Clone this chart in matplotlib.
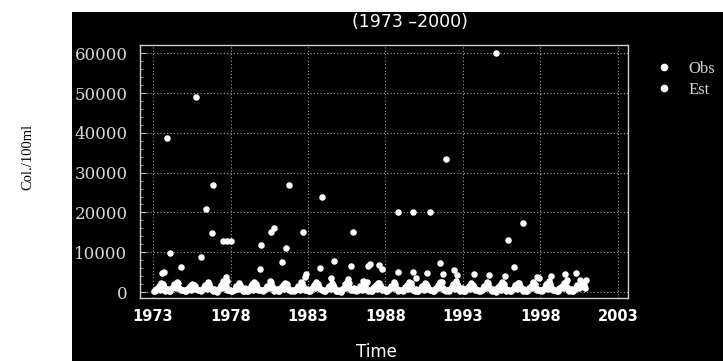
import numpy as np
import matplotlib
matplotlib.use("Agg")
import matplotlib.pyplot as plt
from matplotlib.patches import Rectangle
from matplotlib.lines import Line2D
from matplotlib.ticker import MultipleLocator

# ---------------- data ----------------
years = list(range(1973, 2001))
x_ticks = [1973, 1978, 1983, 1988, 1993, 1998, 2003]
y_ticks = [0, 10000, 20000, 30000, 40000, 50000, 60000]
y_tick_labels = ["0", "10000", "20000", "30000", "40000", "50000", "60000"]

est_months = [1, 3, 5, 7, 9, 11]
obs_band_months = [2, 4, 6, 8, 10, 12]

# Est (bi-monthly values, one row per year)
est_values = [
    [350, 700, 1600, 2300, 1300, 450],
    [300, 900, 1900, 2600, 1100, 400],
    [250, 650, 1400, 2100, 1500, 500],
    [400, 800, 1700, 2500, 1200, 350],
    [300, 750, 1800, 2700, 1400, 450],
    [350, 600, 1500, 2200, 1000, 300],
    [250, 850, 1900, 2400, 1300, 400],
    [400, 700, 1600, 2800, 1500, 500],
    [300, 900, 1700, 2300, 1100, 350],
    [450, 650, 1500, 2500, 1400, 400],
    [300, 800, 1800, 2600, 1200, 500],
    [350, 700, 1600, 2200, 1300, 300],
    [250, 850, 1900, 2500, 1100, 450],
    [400, 600, 1500, 2700, 1400, 350],
    [300, 900, 1700, 2300, 1200, 500],
    [350, 750, 1600, 2400, 1000, 400],
    [450, 700, 1800, 2600, 1300, 300],
    [300, 800, 1500, 2200, 1400, 450],
    [250, 650, 1700, 2500, 1100, 350],
    [400, 900, 1900, 2800, 1500, 500],
    [300, 750, 1600, 2300, 1200, 400],
    [350, 600, 1500, 2400, 1300, 300],
    [450, 850, 1800, 2600, 1000, 450],
    [300, 700, 1700, 2200, 1400, 350],
    [250, 800, 1600, 2500, 1100, 500],
    [400, 650, 1900, 2700, 1300, 400],
    [350, 900, 1500, 2300, 1200, 300],
    [300, 750, 1800, 2900, 1600, 900],
]

# Obs - low values inside the seasonal band (bi-monthly, one row per year)
obs_band_values = [
    [200, 1100, 600, 1900, 300, 800],
    [150, 1300, 900, 2200, 500, 600],
    [300, 900, 500, 1700, 700, 400],
    [250, 1200, 800, 2000, 400, 700],
    [100, 1000, 1100, 2300, 600, 500],
    [300, 800, 700, 1800, 200, 900],
    [200, 1400, 600, 2100, 500, 400],
    [350, 900, 1000, 2400, 300, 700],
    [150, 1200, 800, 1900, 600, 500],
    [250, 1000, 600, 2200, 400, 800],
    [300, 1300, 900, 2000, 700, 400],
    [200, 900, 700, 1700, 300, 600],
    [100, 1100, 1000, 2300, 500, 900],
    [300, 800, 600, 2100, 400, 500],
    [250, 1200, 800, 1800, 600, 700],
    [200, 1000, 900, 2000, 300, 400],
    [350, 1300, 700, 2200, 500, 800],
    [150, 900, 600, 1900, 700, 500],
    [300, 1100, 1000, 2400, 400, 600],
    [200, 1200, 800, 2100, 300, 900],
    [250, 1000, 700, 1800, 600, 400],
    [300, 900, 900, 2300, 500, 700],
    [100, 1300, 600, 2000, 300, 500],
    [250, 1100, 800, 2200, 700, 800],
    [300, 1000, 1000, 1900, 400, 600],
    [200, 1200, 700, 2100, 500, 400],
    [350, 900, 900, 2400, 600, 700],
    [250, 1300, 1100, 2600, 1800, 3000],
]

# Obs - higher observations (decimal year, value)
obs_peak_years = [
    1973.6, 1973.7, 1973.9, 1974.1, 1974.8, 1975.8, 1976.1, 1976.4, 1976.8, 1976.9,
    1977.5, 1977.8, 1978.0, 1977.7, 1977.8, 1979.9, 1980.0, 1980.6, 1980.8, 1981.3,
    1981.6, 1981.8, 1982.7, 1982.8, 1982.9, 1983.8, 1983.9, 1984.5, 1984.7, 1985.6,
    1985.8, 1985.9, 1986.8, 1986.9, 1987.0, 1987.6, 1987.8, 1987.6, 1988.8, 1988.8,
    1989.8, 1989.8, 1990.0, 1990.7, 1990.9, 1991.5, 1991.7, 1991.9, 1992.4, 1992.6,
    1993.7, 1994.7, 1995.1, 1995.7, 1995.9, 1996.3, 1996.9, 1997.8, 1997.9, 1998.7,
    1999.6, 1999.7, 2000.3,
]
obs_peak_values = [
    4800, 5000, 38600, 9800, 6300, 48900, 8800, 20800, 14800, 26900,
    12800, 12800, 12800, 3800, 2800, 5800, 11800, 15000, 16000, 7500,
    11000, 26900, 15000, 3800, 4500, 6000, 23800, 3500, 7800, 3300,
    6500, 15000, 2500, 6500, 7000, 6800, 5800, 2300, 5000, 20100,
    20100, 5000, 3500, 4800, 20100, 7300, 4500, 33400, 5500, 4300,
    4500, 4300, 60000, 4000, 13100, 6300, 17300, 3800, 3500, 4000,
    4500, 3000, 4800,
]

# ---------------- build series ----------------
est_t = [y + (m - 0.5) / 12 for y in years for m in est_months]
est_v = [v for row in est_values for v in row]
obs_t = [y + (m - 0.5) / 12 for y in years for m in obs_band_months] + obs_peak_years
obs_v = [v for row in obs_band_values for v in row] + obs_peak_values

# ---------------- figure ----------------
W, H = 723, 361
fig = plt.figure(figsize=(W / 100, H / 100), dpi=100, facecolor="white")
bg = Rectangle((72 / W, 0), 1 - 72 / W, (H - 12) / H,
               transform=fig.transFigure, facecolor="black",
               edgecolor="none", zorder=-10)
fig.patches.append(bg)

ax = fig.add_axes([140 / W, 1 - 298 / H, (628 - 140) / W, (298 - 45) / H])
ax.set_zorder(2)
ax.set_facecolor("black")

ax.scatter(est_t, est_v, s=22, c="white", marker="o", linewidths=0, zorder=3)
ax.scatter(obs_t, obs_v, s=22, c="white", marker="o", linewidths=0, zorder=3)

ax.set_xlim(1972.16, 2003.65)
ax.set_ylim(-1500, 62070)
ax.set_xticks(x_ticks)
ax.set_xticklabels([str(t) for t in x_ticks])
ax.set_yticks(y_ticks)
ax.set_yticklabels(y_tick_labels)
ax.yaxis.set_minor_locator(MultipleLocator(2000))

ax.grid(True, which="major", color="#a0a0a0", linestyle=(0, (1, 2)), linewidth=0.8)
for sp in ax.spines.values():
    sp.set_color("#d0d0d0")
    sp.set_linestyle((0, (1, 1)))
    sp.set_linewidth(1.0)

ax.tick_params(axis="y", which="major", direction="in", length=4, color="#c0c0c0",
               pad=9, labelcolor="#d8d8d8", labelsize=12)
ax.tick_params(axis="y", which="minor", direction="in", length=2.5, color="#b0b0b0")
ax.tick_params(axis="x", which="major", direction="in", length=0, pad=8,
               labelcolor="white", labelsize=10.5)
for lab in ax.get_yticklabels():
    lab.set_fontfamily("DejaVu Serif")
for lab in ax.get_xticklabels():
    lab.set_fontfamily("DejaVu Sans")
    lab.set_fontweight("bold")

# title and axis labels
fig.text(410 / W, 1 - 22 / H, "(1973 \u20132000)", ha="center", va="center",
         color="white", fontsize=12.5, family="DejaVu Sans", zorder=5)
fig.text(376 / W, 0.0, "Time", ha="center", va="bottom",
         color="white", fontsize=12, family="DejaVu Sans", zorder=5)
fig.text(28 / W, 1 - 157 / H, "Col./100ml", ha="center", va="center",
         rotation=90, color="black", fontsize=10.5, family="Liberation Serif", zorder=5)

# legend
handles = [Line2D([], [], marker="o", ls="", color="white", markersize=4.5),
           Line2D([], [], marker="o", ls="", color="white", markersize=4.5)]
leg = fig.legend(handles, ["Obs", "Est"], loc="upper left",
                 bbox_to_anchor=(655.7 / W, 1 - 61 / H), frameon=False,
                 borderpad=0, borderaxespad=0, handlelength=1.0,
                 handletextpad=0.94, labelspacing=0.3,
                 prop={"family": "Liberation Serif", "size": 12})
leg.set_zorder(5)
for t in leg.get_texts():
    t.set_color("#d0d0d0")

fig.savefig("out.png", dpi=100, facecolor=fig.get_facecolor())
